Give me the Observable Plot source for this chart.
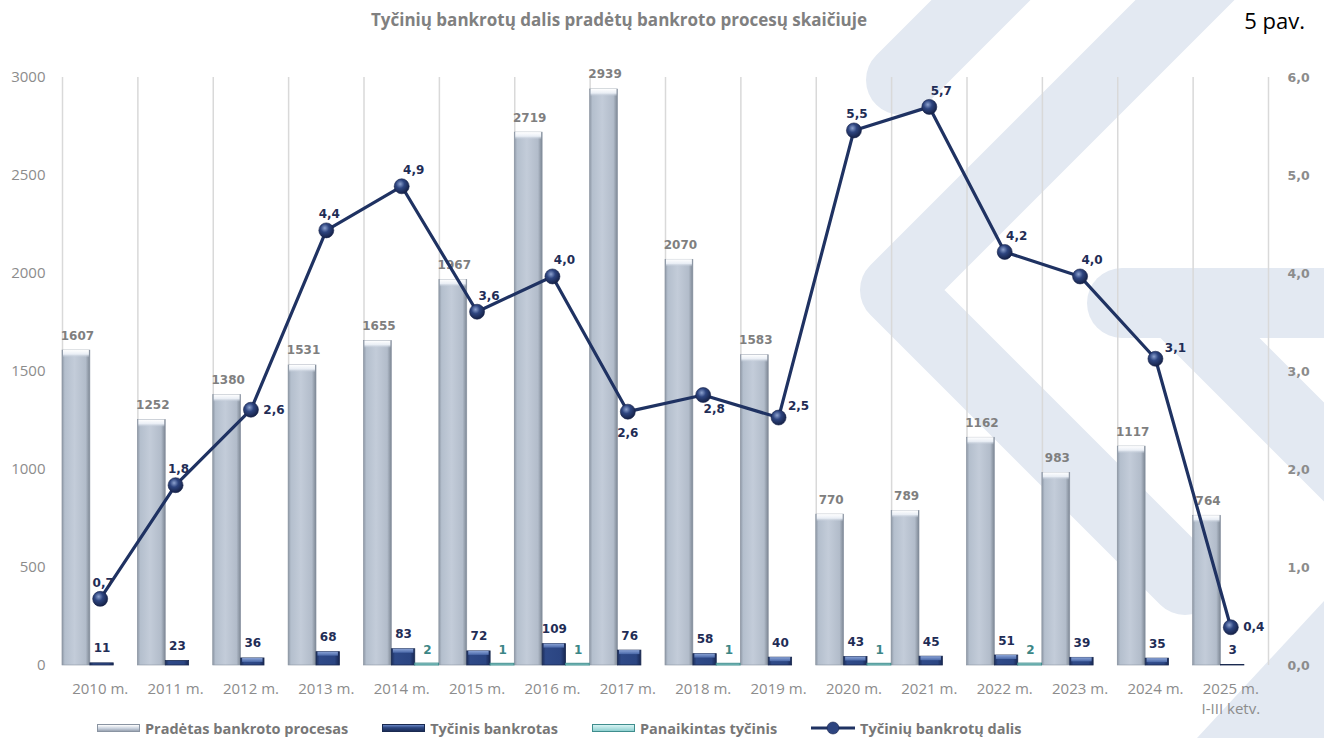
<!DOCTYPE html>
<html>
<head>
<meta charset="utf-8">
<script src="https://cdn.jsdelivr.net/npm/d3@7"></script>
<script src="https://cdn.jsdelivr.net/npm/@observablehq/plot@0.6"></script>
<style>
  html, body { margin: 0; padding: 0; background: #fff; }
  #wrap { position: relative; width: 1324px; height: 738px; overflow: hidden; font-family: "Open Sans", sans-serif; }
  #wm { position: absolute; left: 0; top: 0; z-index: 0; }
  #title { position: absolute; top: 8px; left: 0; width: 1238px; text-align: center; font: bold 17px "Open Sans", sans-serif; color: #808080; z-index: 1; }
  #fig { position: absolute; top: 5px; right: 19px; font: 22px "Open Sans", sans-serif; color: #000; z-index: 1; }
  #chart { position: absolute; left: 0; top: 40px; z-index: 1; }
  #legend { position: absolute; left: 97px; top: 718px; height: 20px; display: flex; align-items: center; gap: 34px; z-index: 2;
            font: bold 14.5px "Open Sans", sans-serif; color: #777; white-space: nowrap; }
  .item { display: flex; align-items: center; gap: 5px; }
  .sw { display: inline-block; width: 43px; height: 8px; box-sizing: border-box; }
</style>
</head>
<body>
<div id="wrap">
  <svg id="wm" width="1324" height="738" viewBox="0 0 1324 738">
    <g fill="none" stroke="#e3e9f2" stroke-width="70" stroke-linecap="round" stroke-linejoin="round">
      <path d="M1060,-79 L901,80"/>
      <path d="M1225,-40 L895,290 L1185,580"/>
      <path d="M1420,303 L1122,303"/>
      <path d="M1175,303 L1500,628"/>
    </g>
    <polygon points="1197,738 1324,601 1324,738" fill="#e3e9f2"/>
  </svg>
  <div id="title"></div>
  <div id="fig"></div>
  <div id="chart"></div>
  <div id="legend"></div>
</div>
<script>
// ---------- data ----------
const years = ["2010 m.", "2011 m.", "2012 m.", "2013 m.", "2014 m.", "2015 m.", "2016 m.", "2017 m.",
               "2018 m.", "2019 m.", "2020 m.", "2021 m.", "2022 m.", "2023 m.", "2024 m.", "2025 m.\nI-III ketv."];
const started     = [1607, 1252, 1380, 1531, 1655, 1967, 2719, 2939, 2070, 1583, 770, 789, 1162, 983, 1117, 764];
const intentional = [11, 23, 36, 68, 83, 72, 109, 76, 58, 40, 43, 45, 51, 39, 35, 3];
const annulled    = [0, 0, 0, 0, 2, 1, 1, 0, 1, 0, 1, 0, 2, 0, 0, 0];
const share       = [0.68, 1.84, 2.61, 4.44, 4.89, 3.61, 3.97, 2.59, 2.76, 2.53, 5.46, 5.70, 4.22, 3.97, 3.13, 0.39];
const leftTicks   = [0, 500, 1000, 1500, 2000, 2500, 3000];
const rightTicks  = [0, 1, 2, 3, 4, 5, 6];
const seriesNames = ["Pradėtas bankroto procesas", "Tyčinis bankrotas", "Panaikintas tyčinis", "Tyčinių bankrotų dalis"];
const titleText   = "Tyčinių bankrotų dalis pradėtų bankroto procesų skaičiuje";
const figText     = "5 pav.";

// ---------- layout config ----------
const labelPlacement = ["top", "top", "right", "top", "topright", "topright", "topright", "bottom",
                        "bottomright", "rightup", "top", "topright", "topright", "topright", "rightup", "right"];
const placeOffsets = {
  top: [3, -16], topright: [12, -16], right: [23, 0], rightup: [20, -11], bottom: [0, 21], bottomright: [11, 14]
};
const GW = 0.37, NW = 0.31;           // sub-bar width fractions of a year band
const RATIO = 3000 / 6;                // right axis mapping

const rows = years.map((label, i) => ({
  i, label, started: started[i], intentional: intentional[i], annulled: annulled[i], share: share[i],
  place: placeOffsets[labelPlacement[i]]
}));

const fmtShare = v => v.toFixed(1).replace(".", ",");

function defs() {
  const ns = "http://www.w3.org/2000/svg";
  const g = document.createElementNS(ns, "g");
  g.innerHTML = `
  <defs>
    <linearGradient id="gGray" x1="0" x2="1" y1="0" y2="0">
      <stop offset="0" stop-color="#8d97a5"/>
      <stop offset="0.1" stop-color="#b4bfcd"/>
      <stop offset="0.45" stop-color="#c3ccd9"/>
      <stop offset="0.85" stop-color="#b2bcca"/>
      <stop offset="1" stop-color="#7c8693"/>
    </linearGradient>
    <linearGradient id="gGrayTop" x1="0" x2="0" y1="0" y2="1">
      <stop offset="0" stop-color="#ffffff"/>
      <stop offset="0.6" stop-color="#e9eef5"/>
      <stop offset="1" stop-color="#c3ccd9" stop-opacity="0.2"/>
    </linearGradient>
    <linearGradient id="gNavy" x1="0" x2="1" y1="0" y2="0">
      <stop offset="0" stop-color="#1c2e5a"/>
      <stop offset="0.15" stop-color="#2f4a88"/>
      <stop offset="0.8" stop-color="#2b4582"/>
      <stop offset="1" stop-color="#172651"/>
    </linearGradient>
    <linearGradient id="gNavyTop" x1="0" x2="0" y1="0" y2="1">
      <stop offset="0" stop-color="#8aa3d6"/>
      <stop offset="1" stop-color="#4a68a8"/>
    </linearGradient>
    <linearGradient id="gTeal" x1="0" x2="0" y1="0" y2="1">
      <stop offset="0" stop-color="#c6eded"/>
      <stop offset="1" stop-color="#79c2c2"/>
    </linearGradient>
    <radialGradient id="gDot" cx="0.4" cy="0.35" r="0.7">
      <stop offset="0" stop-color="#8da2cf"/>
      <stop offset="0.4" stop-color="#2e4580"/>
      <stop offset="1" stop-color="#121d40"/>
    </radialGradient>
  </defs>`;
  return g;
}

const lbl = {fontFamily: "DejaVu Sans", fontWeight: "bold", fontSize: 12, lineAnchor: "bottom", dy: -11};

const chart = Plot.plot({
  width: 1324,
  height: 690,
  marginTop: 37,
  marginBottom: 65,
  marginLeft: 62,
  marginRight: 56,
  style: {background: "transparent", fontFamily: "Open Sans"},
  x: {domain: [0, years.length], label: null},
  y: {domain: [0, 3000], label: null},
  marks: [
    defs,
    Plot.ruleX(d3.range(years.length + 1), {y1: 0, y2: 3000, stroke: "#d9d9d9", strokeWidth: 1.5}),
    // Pradėtas bankroto procesas
    Plot.rect(rows, {x1: d => d.i, x2: d => d.i + GW, y1: 0, y2: "started",
      fill: "url(#gGray)", stroke: "#8a94a2", strokeWidth: 0.6}),
    Plot.rect(rows, {x1: d => d.i, x2: d => d.i + GW, y1: "started", y2: "started", insetBottom: -7,
      insetLeft: 1, insetRight: 1, fill: "url(#gGrayTop)"}),
    // Tyčinis bankrotas
    Plot.rect(rows, {x1: d => d.i + GW, x2: d => d.i + GW + NW, y1: 0, y2: "intentional",
      fill: "url(#gNavy)", stroke: "#1a2a50", strokeWidth: 0.8}),
    Plot.rect(rows.filter(d => d.intentional >= 25), {x1: d => d.i + GW, x2: d => d.i + GW + NW,
      y1: "intentional", y2: "intentional", insetBottom: -4, insetLeft: 1.5, insetRight: 1.5, fill: "url(#gNavyTop)"}),
    // Panaikintas tyčinis
    Plot.rect(rows.filter(d => d.annulled > 0), {x1: d => d.i + GW + NW, x2: d => d.i + 0.995,
      y1: 0, y2: "annulled", insetTop: -1.5, fill: "url(#gTeal)", stroke: "#3f8d8d", strokeWidth: 1}),
    // labels for bars
    Plot.text(rows, {x: d => d.i + GW / 2, y: "started", text: d => String(d.started), dx: 1, fill: "#7f7f7f", ...lbl}),
    Plot.text(rows, {x: d => d.i + GW + NW / 2, y: "intentional", text: d => String(d.intentional), fill: "#1f2d56", ...lbl}),
    Plot.text(rows.filter(d => d.annulled > 0), {x: d => d.i + GW + NW + (1 - GW - NW) / 2, y: "annulled",
      text: d => String(d.annulled), fill: "#3b8686", ...lbl}),
    // Tyčinių bankrotų dalis (right axis)
    Plot.line(rows, {x: d => d.i + 0.5, y: d => d.share * RATIO, stroke: "#1f3262", strokeWidth: 3.2}),
    Plot.dot(rows, {x: d => d.i + 0.5, y: d => d.share * RATIO, r: 7.5, fill: "url(#gDot)", stroke: "#15224a", strokeWidth: 0.6}),
    ...rows.map(d => Plot.text([d], {x: r => r.i + 0.5, y: r => r.share * RATIO, text: r => fmtShare(r.share),
      dx: d.place[0], dy: d.place[1], fill: "#1f2d56", fontFamily: "DejaVu Sans", fontWeight: "bold", fontSize: 12,
      lineAnchor: "middle"})),
    // axes
    Plot.axisY(leftTicks, {anchor: "left", tickSize: 0, tickPadding: 17, tickFormat: d => String(d),
      fontSize: 15, fontFamily: "Open Sans", fill: "#8c8c8c", label: null}),
    Plot.axisY(rightTicks.map(v => v * RATIO), {anchor: "right", tickSize: 0, tickPadding: 19,
      tickFormat: d => fmtShare(d / RATIO), fontSize: 12.5, fontFamily: "DejaVu Sans", fontWeight: "bold",
      fill: "#8c8c8c", label: null}),
    Plot.axisX(d3.range(years.length).map(i => i + 0.5), {anchor: "bottom", tickSize: 0, tickPadding: 15,
      tickFormat: d => years[Math.floor(d)], fontSize: 15, lineHeight: 1.3, fontFamily: "Open Sans",
      fill: "#8c8c8c", label: null})
  ]
});
document.getElementById("chart").appendChild(chart);
document.getElementById("title").textContent = titleText;
document.getElementById("fig").textContent = figText;

// legend
const swatches = [
  `<span class="sw" style="background:linear-gradient(#ffffff,#c5cedb 60%,#9aa4b2);border:1px solid #8a94a2"></span>`,
  `<span class="sw" style="background:linear-gradient(#6a87c6,#2c4680 45%,#1c2e5a);border:1px solid #1a2a50"></span>`,
  `<span class="sw" style="background:linear-gradient(#d8f4f4,#8fd0d0);border:1px solid #3f8d8d"></span>`,
  `<svg width="44" height="14" style="display:block"><line x1="0" x2="44" y1="7" y2="7" stroke="#1f3262" stroke-width="3"/>` +
  `<circle cx="22" cy="7" r="6" fill="#2e4580" stroke="#15224a" stroke-width="0.6"/></svg>`
];
const legend = document.getElementById("legend");
seriesNames.forEach((name, k) => {
  const it = document.createElement("span");
  it.className = "item";
  it.innerHTML = swatches[k];
  const t = document.createElement("span");
  t.textContent = name;
  it.appendChild(t);
  legend.appendChild(it);
});
</script>
</body>
</html>
